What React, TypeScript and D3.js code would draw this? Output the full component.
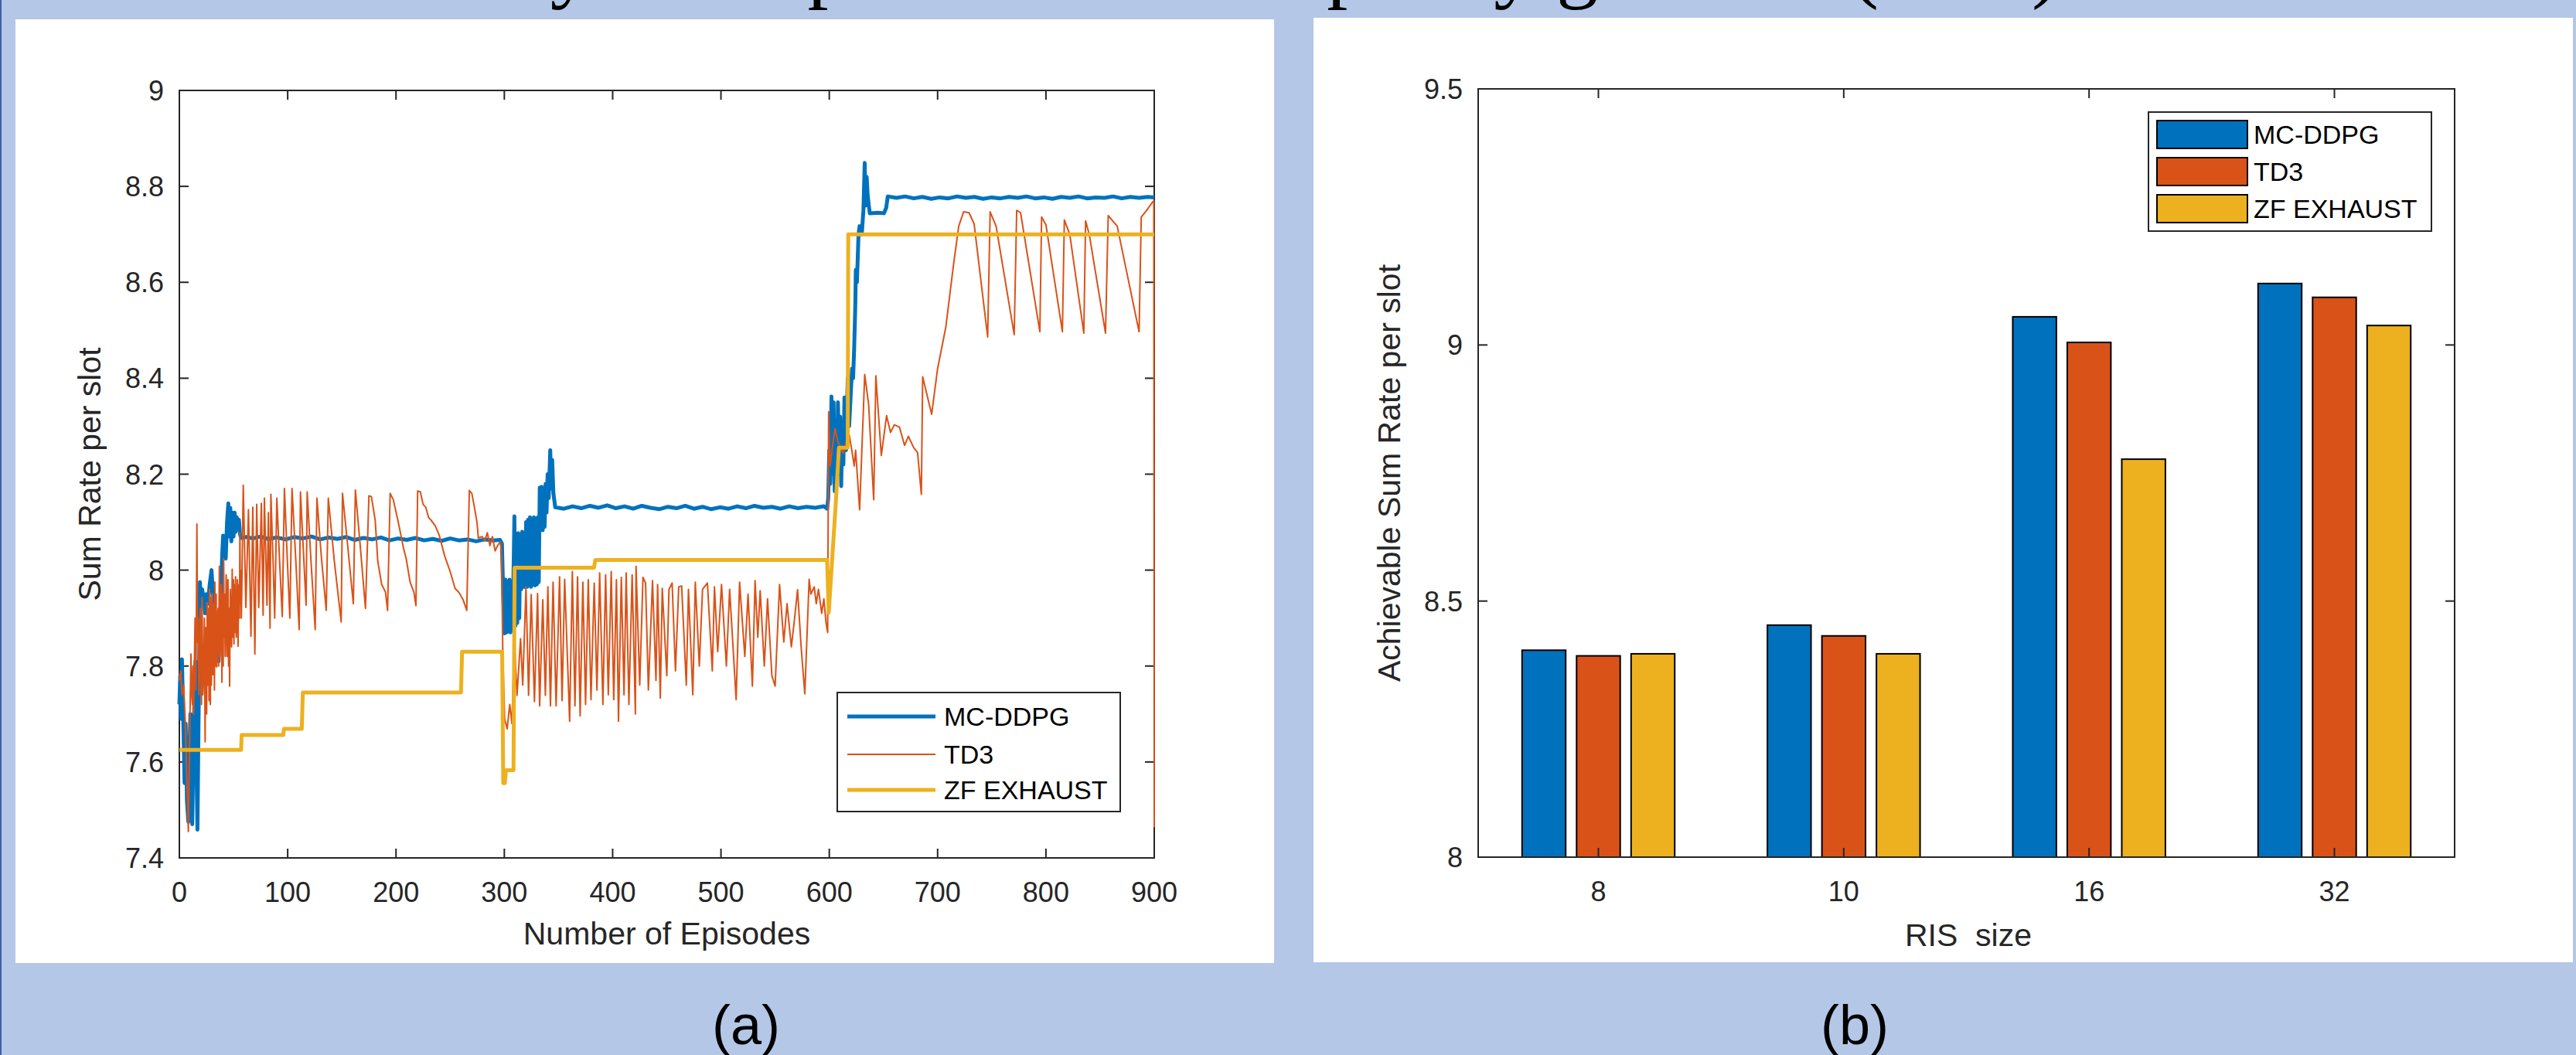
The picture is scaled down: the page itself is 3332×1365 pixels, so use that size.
import React from 'react';
import * as d3 from 'd3';

type Pt = [number, number];

// ---------- Panel (a): learning curves ----------
const episodeTicks = [0, 100, 200, 300, 400, 500, 600, 700, 800, 900];
const rateTicks = [7.4, 7.6, 7.8, 8, 8.2, 8.4, 8.6, 8.8, 9];
const seriesNames = ['MC-DDPG', 'TD3', 'ZF EXHAUST'];

const mcDdpg: Pt[] = [
  [0, 7.72], [0.8, 7.78], [1.6, 7.69], [2.4, 7.814], [3.5, 7.7], [4.8, 7.556], [5.8, 7.68], [7, 7.52], [8.3, 7.475],
  [9.2, 7.62], [10.2, 7.7], [11.2, 7.55], [11.9, 7.47], [12.8, 7.6], [14, 7.74], [14.8, 7.81], [15.6, 7.62], [16.7, 7.459],
  [17.6, 7.66], [18.3, 7.8], [19, 7.975], [20, 7.93], [21, 7.96], [22.6, 7.94], [23.8, 7.91], [25, 7.95], [26.5, 7.93],
  [28, 7.97], [29.7, 8.0], [30.8, 7.96], [32, 7.92], [33.5, 7.88], [35, 7.84], [36.2, 7.81], [37.5, 7.88], [38.5, 7.96],
  [39.5, 8.03], [40.4, 8.072], [41.5, 8.03], [42.8, 8.024], [44, 8.1], [45.2, 8.139], [46, 8.07], [47, 8.13], [48, 8.06],
  [49, 8.12], [50, 8.07], [51, 8.12], [52, 8.08], [53, 8.11], [54, 8.09], [55, 8.105], [56, 8.075], [57, 8.067],
  [62, 8.069], [68, 8.066], [75, 8.07], [82, 8.065], [90, 8.068], [98, 8.064], [106, 8.069], [114, 8.066], [122, 8.07],
  [130, 8.064], [138, 8.068], [146, 8.065], [154, 8.069], [162, 8.063], [170, 8.067], [178, 8.064], [186, 8.068],
  [194, 8.062], [202, 8.066], [210, 8.063], [218, 8.067], [226, 8.062], [234, 8.065], [242, 8.061], [250, 8.066],
  [258, 8.062], [266, 8.064], [274, 8.06], [282, 8.064], [290, 8.062], [296, 8.063], [297.8, 8.055], [299, 7.95],
  [300.3, 7.868], [301.2, 7.98], [302.1, 7.87], [303, 7.975], [303.9, 7.872], [304.8, 7.98], [305.7, 7.87], [306.6, 7.97],
  [307.5, 7.875], [308.4, 7.98], [309.3, 8.112], [310.2, 7.884], [311.1, 8.07], [312, 7.89], [312.9, 8.077], [313.8, 7.9],
  [314.7, 8.07], [315.6, 7.96], [316.5, 8.08], [317.4, 7.965], [318.3, 8.075], [319.2, 7.965], [320.1, 8.1], [321, 7.965],
  [321.9, 8.105], [322.8, 7.97], [323.7, 8.11], [324.6, 7.965], [325.5, 8.1], [326.4, 7.97], [327.3, 8.11], [328.2, 7.968],
  [329.1, 8.105], [330, 7.97], [330.9, 8.11], [331.8, 7.975], [332.7, 8.172], [333.6, 8.085], [334.5, 8.174], [335.4, 8.083],
  [336.3, 8.17], [337.2, 8.09], [338.1, 8.18], [339, 8.12], [340, 8.2], [341, 8.15], [342.4, 8.25], [343.3, 8.17],
  [344.2, 8.23], [345.3, 8.16], [347, 8.131],
  [355, 8.128], [363, 8.133], [371, 8.129], [379, 8.134], [387, 8.13], [395, 8.135], [403, 8.129], [411, 8.133],
  [419, 8.128], [427, 8.134], [435, 8.13], [443, 8.127], [451, 8.132], [459, 8.129], [467, 8.134], [475, 8.128],
  [483, 8.132], [491, 8.127], [499, 8.131], [507, 8.128], [515, 8.133], [523, 8.129], [531, 8.134], [539, 8.13],
  [547, 8.132], [555, 8.128], [563, 8.133], [571, 8.129], [579, 8.132], [587, 8.13], [595, 8.133], [598, 8.128],
  [599, 8.15], [600, 8.25], [601, 8.18], [602, 8.362], [603, 8.2], [604, 8.35], [605, 8.164], [606, 8.3], [607, 8.18],
  [608, 8.35], [609, 8.2], [610, 8.32], [611, 8.175], [612, 8.3], [613, 8.22], [614, 8.36], [615.5, 8.25], [617, 8.4],
  [618.3, 8.3], [619.6, 8.357], [621, 8.42], [622, 8.4], [623, 8.465], [624, 8.55], [624.5, 8.626], [625.5, 8.6],
  [627, 8.7], [628, 8.717], [630, 8.7], [631.5, 8.75], [632.7, 8.849], [633.5, 8.76], [634.5, 8.82], [635.5, 8.78],
  [636.5, 8.76], [637.4, 8.744], [645, 8.745], [650.5, 8.744], [652.5, 8.755], [654, 8.779],
  [662, 8.776], [670, 8.779], [678, 8.775], [686, 8.778], [694, 8.774], [702, 8.777], [710, 8.775], [718, 8.779],
  [726, 8.776], [734, 8.778], [742, 8.774], [750, 8.777], [758, 8.775], [766, 8.778], [774, 8.776], [782, 8.779],
  [790, 8.775], [798, 8.777], [806, 8.774], [814, 8.778], [822, 8.776], [830, 8.779], [838, 8.775], [846, 8.777],
  [854, 8.776], [862, 8.779], [870, 8.775], [878, 8.778], [886, 8.776], [894, 8.778], [900, 8.777],
];

const td3: Pt[] = [
  [0, 7.77], [1.2, 7.79], [2.5, 7.74], [4, 7.76], [5.5, 7.68], [7, 7.56], [8.3, 7.455], [9.5, 7.65], [10.7, 7.825],
  [11.4, 7.74], [12, 7.72], [12.6, 7.8], [13.2, 7.7], [14.5, 7.9], [15.3, 7.75], [16.2, 8.096], [16.8, 7.85], [17.4, 7.9],
  [18, 7.74], [18.6, 7.77], [19.2, 7.92], [19.8, 7.86], [20.4, 7.72], [21, 7.943], [21.7, 7.74], [22.4, 7.78], [23.1, 7.9],
  [23.8, 7.642], [24.3, 7.88], [24.8, 7.8], [25.2, 7.7], [25.7, 7.932], [26.1, 7.76], [26.6, 7.8], [27, 7.92], [27.4, 7.728],
  [27.8, 7.96], [28.2, 7.85], [28.6, 7.72], [29, 7.943], [29.5, 7.76], [30, 7.85], [30.5, 7.95], [31, 7.782], [31.5, 7.93],
  [32, 7.9], [32.4, 7.75], [32.8, 7.975], [33.2, 7.8], [33.6, 7.86], [34, 7.95], [34.5, 7.798], [35.1, 7.9], [35.8, 7.92],
  [36.3, 7.8], [36.9, 8.008], [37.4, 7.82], [38, 7.86], [38.6, 7.97], [39.3, 7.766], [39.7, 7.95], [40.1, 7.9],
  [40.5, 7.8], [40.9, 8.024], [41.4, 7.86], [41.8, 7.95], [42.3, 7.82], [42.8, 7.879], [43.2, 7.99], [43.6, 7.96],
  [44, 7.82], [44.4, 7.9], [44.9, 7.98], [45.4, 7.8], [45.9, 7.92], [46.4, 7.758], [47, 7.96], [47.6, 7.9], [48.2, 7.84],
  [48.8, 8.002], [49.2, 7.86], [49.6, 7.92], [50, 7.98], [50.4, 7.846], [50.8, 7.97], [51.2, 7.93], [51.6, 7.87],
  [51.9, 7.986], [52.5, 7.86], [53, 7.9], [53.6, 7.98], [54.2, 7.841], [54.7, 7.96], [55.1, 7.97], [55.5, 7.9],
  [55.9, 8.078], [56.4, 7.93], [56.8, 8.0], [57.2, 7.9], [57.6, 7.954], [59, 8.177], [61.4, 7.922], [63.8, 8.126],
  [66.1, 7.862], [67.8, 8.131], [69.7, 7.825], [71.4, 8.137], [73.3, 7.922], [75.7, 8.139], [77.3, 7.906], [78.5, 8.15],
  [80.9, 7.927], [82.2, 8.12], [83.7, 7.879], [84.5, 8.158], [86.5, 8.02], [88, 7.9], [90, 8.15], [92.5, 8.02],
  [95, 7.903], [97, 8.17], [99.5, 8.03], [102, 7.9], [104, 8.17], [107.5, 8.02], [110.6, 7.876], [111.8, 8.163],
  [114.5, 8.04], [117, 7.927], [118, 8.163], [121.5, 8.02], [125.4, 7.876], [127, 8.15], [131, 8.03], [135.6, 7.916],
  [137.5, 8.15], [143, 8.02], [149.4, 7.892], [150.6, 8.16], [155, 8.06], [160.6, 7.93], [162.5, 8.167], [167, 8.05],
  [171.8, 7.92], [175, 8.155], [177.3, 8.153], [180.8, 8.104], [183.2, 8.018], [186.8, 7.97], [190.3, 7.954],
  [192.2, 7.916], [194.6, 8.16], [197.5, 8.147], [202.2, 8.099], [207, 8.045], [209.4, 8.024], [213, 7.975],
  [216.5, 7.954], [218.4, 7.926], [220, 8.165], [222.5, 8.163], [225, 8.137], [227.5, 8.131], [230, 8.11], [232, 8.105],
  [236, 8.093], [238, 8.083], [240, 8.072], [245, 8.029], [250, 7.997], [254.5, 7.962], [258, 7.954], [262, 7.938],
  [265.3, 7.916], [267.7, 8.166], [270, 8.16], [272.4, 8.131], [274.8, 8.099], [276, 8.067], [279.5, 8.07], [282, 8.061],
  [284.3, 8.078], [286.7, 8.051], [289, 8.07], [291.5, 8.04], [293.8, 8.051], [296.2, 8.059], [297.4, 8.04],
  [298.6, 7.825], [300.3, 7.69], [302.6, 7.669], [305, 7.72], [307, 7.68], [309.3, 7.852], [311.7, 7.739], [315, 7.857],
  [317, 7.76],
  [320, 7.965], [322.4, 7.739], [324.8, 7.949], [327.8, 7.726], [330.7, 7.951], [332.6, 7.717], [335.5, 7.938],
  [337.9, 7.739], [340.2, 7.965], [342.6, 7.717], [345, 7.975], [347.8, 7.717], [351, 7.986], [353.3, 7.728],
  [355.7, 7.981], [360.3, 7.685], [362.8, 7.997], [365.2, 7.717], [367.6, 7.986], [370, 7.696], [372.5, 7.975],
  [375, 7.72], [377.5, 7.98], [380, 7.73], [383, 7.973], [385.5, 7.75], [388, 7.994], [391, 7.72], [393.5, 7.99],
  [396, 7.74], [398.7, 7.997], [401, 7.73], [403.5, 7.98], [405.4, 7.685], [408, 7.985], [410.5, 7.74], [412.5, 7.994],
  [415, 7.72], [418, 7.99], [421, 7.7], [421.6, 8.008], [425, 7.76], [428, 7.985], [430.4, 7.973], [433, 7.75],
  [436.8, 7.978], [440, 7.77], [441.5, 7.97], [444, 7.733], [445.8, 7.962], [450, 7.78], [452, 7.96], [454.9, 7.973],
  [458, 7.79], [461, 7.965], [463.7, 7.967], [468, 7.76], [470, 7.96], [474, 7.74], [476.3, 7.975], [480, 7.8],
  [483, 7.96], [487.5, 7.973], [492, 7.79], [494, 7.965], [497, 7.83], [500.5, 7.97], [505, 7.8], [508, 7.96],
  [514, 7.73], [517.2, 7.975], [522, 7.82], [525, 7.95], [529, 7.758], [531.5, 7.978], [534, 7.86], [536.2, 7.957],
  [540, 7.8], [543, 7.94], [547, 7.78], [550, 7.758], [554.1, 7.97], [558, 7.85], [561, 7.93], [565, 7.84], [568, 7.9],
  [570.7, 7.959], [574, 7.84], [577.4, 7.742], [581.4, 7.981], [583, 7.95], [586.1, 7.965], [588, 7.93], [590, 7.96],
  [593, 7.91], [595, 7.94], [597, 7.89], [598.5, 7.87],
  [599.4, 8.33], [600.8, 8.217], [603.4, 8.266], [605.3, 8.295], [607.7, 8.27], [610.5, 8.255], [612.9, 8.244],
  [616, 8.27], [618.4, 8.282], [620.8, 8.25], [623, 8.217], [624.3, 8.25], [628, 8.126], [632.7, 8.408], [636.3, 8.346],
  [641, 8.147], [643, 8.405], [648, 8.239], [652.9, 8.322], [656.5, 8.287], [660, 8.303], [664.8, 8.298], [669.5, 8.26],
  [673, 8.279], [678, 8.255], [681.5, 8.245], [685, 8.158], [686.2, 8.403], [694.5, 8.325], [700, 8.42], [707.6, 8.507],
  [714.7, 8.637], [719.5, 8.717], [724, 8.747], [729, 8.745], [733.7, 8.722], [746.2, 8.486], [748.5, 8.747],
  [754, 8.717], [770.7, 8.491], [773, 8.75], [776.6, 8.745], [794.4, 8.497], [796, 8.736], [800, 8.72], [815.2, 8.497],
  [817, 8.73], [822, 8.7], [835, 8.494], [836.6, 8.728], [840, 8.7], [855, 8.494], [857.5, 8.739], [865.8, 8.717],
  [886, 8.497], [888, 8.736], [893, 8.75], [898, 8.766], [899.6, 8.77], [900, 7.464],
];

const zfExhaust: Pt[] = [
  [0, 7.625], [57, 7.625], [57.5, 7.656], [96, 7.656], [96.5, 7.669], [113, 7.669], [114, 7.745], [260, 7.745],
  [261, 7.83], [298, 7.83], [299, 7.556], [300.5, 7.556], [301.5, 7.583], [308.5, 7.583], [309.5, 8.005],
  [382.8, 8.005], [384, 8.021], [598, 8.021], [599.5, 7.911], [606, 8.14], [608.9, 8.255], [617, 8.255],
  [617.5, 8.7], [900, 8.7],
];

// ---------- Panel (b): bar chart ----------
const risSizes = ['8', '10', '16', '32'];
const mcDdpgBars = [8.404, 8.453, 9.055, 9.12];
const td3Bars = [8.393, 8.432, 9.005, 9.093];
const zfBars = [8.397, 8.397, 8.777, 9.038];
const achievableTicks = [8, 8.5, 9, 9.5];

const COLORS = ['#0072BD', '#D95319', '#EDB120'];
const AX = '#262626';
const FONT = "'Liberation Sans', Arial, Helvetica, sans-serif";
const BG = '#B4C7E7';

function LineChart() {
  const x = d3.scaleLinear().domain([0, 900]).range([232, 1493]);
  const y = d3.scaleLinear().domain([7.4, 9]).range([1110, 117]);
  const line = d3.line<Pt>().x((d) => x(d[0])).y((d) => y(d[1]));
  const [xl, xr] = x.range();
  const [yb, yt] = y.range();
  const tl = 12;
  const series: { data: Pt[]; w: number }[] = [
    { data: mcDdpg, w: 5 },
    { data: td3, w: 2 },
    { data: zfExhaust, w: 5 },
  ];
  const legendRows = [927, 976, 1022];
  return (
    <g>
      <rect x={xl} y={yt} width={xr - xl} height={yb - yt} fill="#fff" stroke={AX} strokeWidth={2} />
      {episodeTicks.map((t) => (
        <g key={'xt' + t}>
          <line x1={x(t)} x2={x(t)} y1={yb} y2={yb - tl} stroke={AX} strokeWidth={2} />
          <line x1={x(t)} x2={x(t)} y1={yt} y2={yt + tl} stroke={AX} strokeWidth={2} />
          <text x={x(t)} y={1167} textAnchor="middle" fontSize={36} fill={AX} fontFamily={FONT}>
            {t}
          </text>
        </g>
      ))}
      {rateTicks.map((t) => (
        <g key={'yt' + t}>
          <line x1={xl} x2={xl + tl} y1={y(t)} y2={y(t)} stroke={AX} strokeWidth={2} />
          <line x1={xr} x2={xr - tl} y1={y(t)} y2={y(t)} stroke={AX} strokeWidth={2} />
          <text x={212} y={y(t) + 13} textAnchor="end" fontSize={36} fill={AX} fontFamily={FONT}>
            {String(t)}
          </text>
        </g>
      ))}
      {series.map((s, i) => (
        <path
          key={'s' + i}
          d={line(s.data) || ''}
          fill="none"
          stroke={COLORS[i]}
          strokeWidth={s.w}
          strokeLinejoin="round"
          strokeLinecap="butt"
        />
      ))}
      <rect x={1083} y={896} width={366} height={154} fill="#fff" stroke={AX} strokeWidth={2} />
      {seriesNames.map((n, i) => (
        <g key={'lg' + i}>
          <line x1={1096} x2={1210} y1={legendRows[i]} y2={legendRows[i]} stroke={COLORS[i]} strokeWidth={series[i].w} />
          <text x={1221} y={legendRows[i] + 12} fontSize={34} fill="#000" fontFamily={FONT}>
            {n}
          </text>
        </g>
      ))}
      <text x={(xl + xr) / 2} y={1222} textAnchor="middle" fontSize={41} fill={AX} fontFamily={FONT}>
        Number of Episodes
      </text>
      <text
        transform={`translate(130, ${(yt + yb) / 2}) rotate(-90)`}
        textAnchor="middle"
        fontSize={41}
        fill={AX}
        fontFamily={FONT}
      >
        Sum Rate per slot
      </text>
    </g>
  );
}

function BarChart() {
  const x = d3.scaleLinear().domain([0.51, 4.49]).range([1912, 3175]);
  const y = d3.scaleLinear().domain([8, 9.5]).range([1109, 115]);
  const [xl, xr] = x.range();
  const [yb, yt] = y.range();
  const tl = 12;
  const groups = [mcDdpgBars, td3Bars, zfBars];
  const offset = 0.2222;
  const bw = 0.1778;
  const legendRows = [174, 222, 270];
  return (
    <g>
      <rect x={xl} y={yt} width={xr - xl} height={yb - yt} fill="#fff" />
      {groups.map((vals, s) =>
        vals.map((v, i) => {
          const c = i + 1 + (s - 1) * offset;
          const x0 = x(c - bw / 2);
          const x1 = x(c + bw / 2);
          return (
            <rect
              key={`b${s}-${i}`}
              x={x0}
              y={y(v)}
              width={x1 - x0}
              height={y(8) - y(v)}
              fill={COLORS[s]}
              stroke="#000"
              strokeWidth={2}
            />
          );
        })
      )}
      <rect x={xl} y={yt} width={xr - xl} height={yb - yt} fill="none" stroke={AX} strokeWidth={2} />
      {risSizes.map((r, i) => (
        <g key={'bx' + r}>
          <line x1={x(i + 1)} x2={x(i + 1)} y1={yb} y2={yb - tl} stroke={AX} strokeWidth={2} />
          <line x1={x(i + 1)} x2={x(i + 1)} y1={yt} y2={yt + tl} stroke={AX} strokeWidth={2} />
          <text x={x(i + 1)} y={1166} textAnchor="middle" fontSize={36} fill={AX} fontFamily={FONT}>
            {r}
          </text>
        </g>
      ))}
      {achievableTicks.map((t) => (
        <g key={'by' + t}>
          <line x1={xl} x2={xl + tl} y1={y(t)} y2={y(t)} stroke={AX} strokeWidth={2} />
          <line x1={xr} x2={xr - tl} y1={y(t)} y2={y(t)} stroke={AX} strokeWidth={2} />
          <text x={1892} y={y(t) + 13} textAnchor="end" fontSize={36} fill={AX} fontFamily={FONT}>
            {String(t)}
          </text>
        </g>
      ))}
      <rect x={2779} y={145} width={366} height={154} fill="#fff" stroke={AX} strokeWidth={2} />
      {seriesNames.map((n, i) => (
        <g key={'blg' + i}>
          <rect x={2790} y={legendRows[i] - 18} width={117} height={36} fill={COLORS[i]} stroke="#000" strokeWidth={2} />
          <text x={2915} y={legendRows[i] + 12} fontSize={34} fill="#000" fontFamily={FONT}>
            {n}
          </text>
        </g>
      ))}
      <text x={2546} y={1224} textAnchor="middle" fontSize={41} fill={AX} fontFamily={FONT} style={{ whiteSpace: 'pre' }}>
        {'RIS  size'}
      </text>
      <text
        transform={`translate(1811, ${(yt + yb) / 2}) rotate(-90)`}
        textAnchor="middle"
        fontSize={41}
        fill={AX}
        fontFamily={FONT}
      >
        Achievable Sum Rate per slot
      </text>
    </g>
  );
}

export default function App() {
  return (
    <svg
      width={3332}
      height={1365}
      viewBox="0 0 3332 1365"
      style={{ position: 'absolute', left: 0, top: 0, display: 'block' }}
      xmlns="http://www.w3.org/2000/svg"
    >
      <rect x={0} y={0} width={3332} height={1365} fill={BG} />
      <line x1={1} x2={1} y1={0} y2={1365} stroke="#3F5FA8" strokeWidth={2} />
      <text
        x={2664}
        y={-10}
        textAnchor="end"
        fontSize={108}
        fill="#000"
        fontFamily="'Liberation Serif', 'Times New Roman', serif"
      >
        Twin delayed deep deterministic policy gradient (TD3)
      </text>
      <rect x={20} y={25} width={1628} height={1221} fill="#fff" />
      <rect x={1699} y={23} width={1629} height={1222} fill="#fff" />
      <LineChart />
      <BarChart />
      <text x={965} y={1351} textAnchor="middle" fontSize={72} fill="#000" fontFamily={FONT}>
        (a)
      </text>
      <text x={2399} y={1351} textAnchor="middle" fontSize={72} fill="#000" fontFamily={FONT}>
        (b)
      </text>
    </svg>
  );
}
